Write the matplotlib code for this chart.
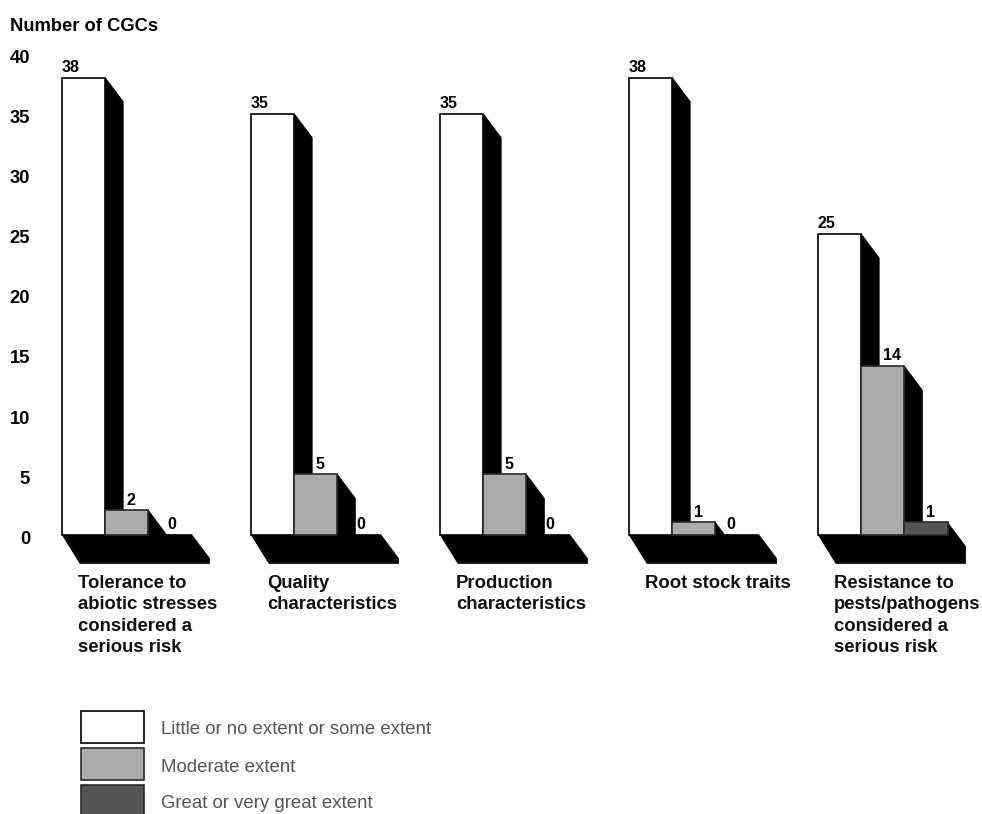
import matplotlib
matplotlib.use("Agg")
import matplotlib.pyplot as plt
from matplotlib.patches import Polygon, Rectangle
from matplotlib.transforms import ScaledTranslation

plt.rcParams["font.family"] = ["Liberation Sans", "DejaVu Sans"]

# Survey results: number of CGCs per trait and extent
categories = [
    "Tolerance to\nabiotic stresses\nconsidered a\nserious risk",
    "Quality\ncharacteristics",
    "Production\ncharacteristics",
    "Root stock traits",
    "Resistance to\npests/pathogens\nconsidered a\nserious risk",
]
little_or_some = [38, 35, 35, 38, 25]
moderate = [2, 5, 5, 1, 14]
great = [0, 0, 0, 0, 1]
series_labels = [
    "Little or no extent or some extent",
    "Moderate extent",
    "Great or very great extent",
]
y_ticks = [0, 5, 10, 15, 20, 25, 30, 35, 40]

FIG_W, FIG_H = 982, 814
LEFT, RIGHT, ZERO_Y, TOP_Y = 62, 982, 534.5, 53.5
GROUP_PITCH = 189.0
BAR_W = 43.2 / GROUP_PITCH
DEPTH_X = 18 / GROUP_PITCH
PX_PER_UNIT = (ZERO_Y - TOP_Y) / 40
DEPTH_Y = 24 / PX_PER_UNIT
FLOOR_Y = 29 / PX_PER_UNIT
COLORS = ["#FFFFFF", "#ABABAB", "#555555"]
EDGES = ["#000000", "#2A2A2A", "#2A2A2A"]
PX = 0.72  # points per pixel at 100 dpi

fig = plt.figure(figsize=(FIG_W / 100, FIG_H / 100), dpi=100, facecolor="white")
ax = fig.add_axes([LEFT / FIG_W, 1 - ZERO_Y / FIG_H, (RIGHT - LEFT) / FIG_W, (ZERO_Y - TOP_Y) / FIG_H])
ax.set_xlim(0, (RIGHT - LEFT) / GROUP_PITCH)
ax.set_ylim(0, 40)
ax.patch.set_visible(False)
for spine in ax.spines.values():
    spine.set_visible(False)
ax.set_xticks([])
ax.set_yticks(y_ticks)
ax.tick_params(axis="y", length=0, pad=23)
tick_shift = ScaledTranslation(0, -2.0 / 72, fig.dpi_scale_trans)
for lab in ax.get_yticklabels():
    lab.set_fontsize(13.2)
    lab.set_fontweight("bold")
    lab.set_transform(lab.get_transform() + tick_shift)

series = [little_or_some, moderate, great]

for i, cat in enumerate(categories):
    x0 = float(i)
    x_end = x0 + 3 * BAR_W
    # Black floor slab under the group
    ax.add_patch(Polygon(
        [(x0, 0), (x_end, 0), (x_end + DEPTH_X, -DEPTH_Y),
         (x_end + DEPTH_X, -FLOOR_Y), (x0 + DEPTH_X, -FLOOR_Y)],
        closed=True, fc="black", ec="black", lw=0.5, clip_on=False, zorder=1))
    for j, values in enumerate(series):
        v = values[i]
        left = x0 + j * BAR_W
        right = left + BAR_W
        if v > 0:
            # Side face in black, then the front face
            ax.add_patch(Polygon(
                [(right, v), (right + DEPTH_X, v - DEPTH_Y),
                 (right + DEPTH_X, -DEPTH_Y), (right, 0)],
                closed=True, fc="black", ec="black", lw=0.5, clip_on=False, zorder=2 + j))
            ax.add_patch(Rectangle((left, 0), BAR_W, v, fc=COLORS[j], ec=EDGES[j],
                                   lw=1.2, clip_on=False, zorder=2.5 + j))
        # White bars carry the label at their left edge, the others near the centre
        if j == 0:
            nudge = 0
        elif v > 0:
            nudge = BAR_W * GROUP_PITCH / 2
        else:
            nudge = BAR_W * GROUP_PITCH / 2 - (11 if i == 3 else 3)
        ax.annotate(str(v), (left, v), xytext=(nudge * PX, 2.8 * PX), textcoords="offset points",
                    ha="left", va="bottom", fontsize=11.6, fontweight="bold",
                    clip_on=False, zorder=10)
    ax.annotate(cat, (x0, 0), xytext=(16 * PX, -40.5 * PX), textcoords="offset points",
                ha="left", va="top", fontsize=13.3, fontweight="bold",
                linespacing=1.34, annotation_clip=False, color="#111111")

fig.text(10 / FIG_W, 1 - 31 / FIG_H, "Number of CGCs", fontsize=13.2, fontweight="bold",
         ha="left", va="baseline")

# Legend swatches and captions, the last swatch runs to the figure edge
swatch_tops = [711, 748, 785]
swatch_bottoms = [742.5, 780, 818]
caption_y = [730, 767, 803]
for k, label in enumerate(series_labels):
    fig.add_artist(Rectangle((80.5 / FIG_W, 1 - swatch_bottoms[k] / FIG_H), 64 / FIG_W,
                             (swatch_bottoms[k] - swatch_tops[k]) / FIG_H,
                             transform=fig.transFigure, fc=COLORS[k], ec=EDGES[k], lw=1.2))
    fig.text(161 / FIG_W, 1 - caption_y[k] / FIG_H, label, fontsize=13.4, color="#555555",
             ha="left", va="center")

fig.savefig("out.png", dpi=100, facecolor="white")
